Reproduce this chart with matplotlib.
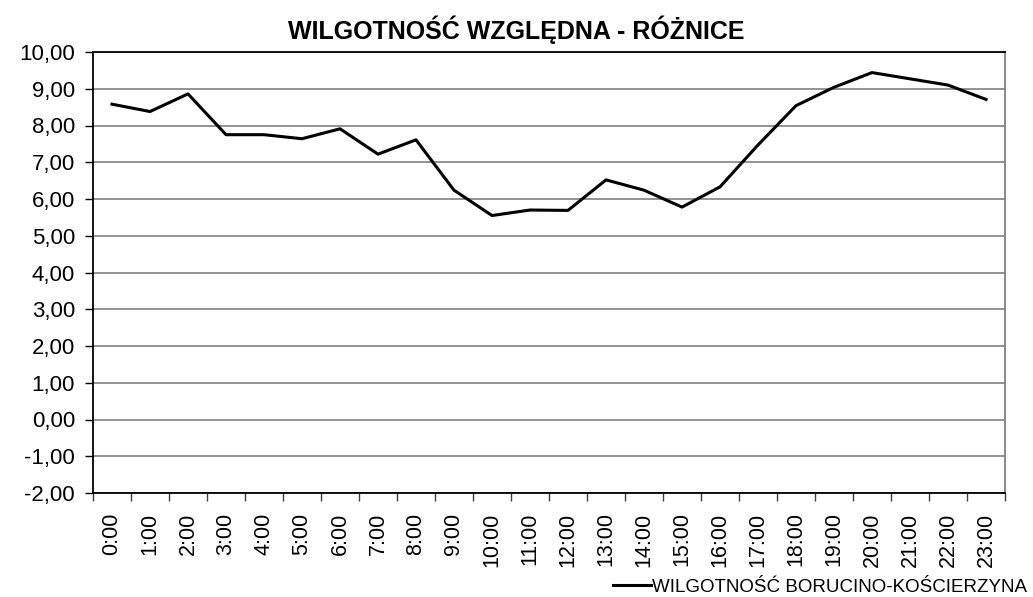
import numpy as np
import matplotlib
matplotlib.use('Agg')
import matplotlib.pyplot as plt
from matplotlib.ticker import FuncFormatter, FixedLocator

plt.rcParams['font.family'] = ['Liberation Sans', 'DejaVu Sans']

# godziny i różnice wilgotności
hours = ['%d:00' % h for h in range(24)]
diff = [8.58, 8.38, 8.86, 7.75, 7.75, 7.64, 7.91, 7.22, 7.61, 6.24, 5.55, 5.70,
        5.69, 6.52, 6.24, 5.78, 6.33, 7.47, 8.54, 9.04, 9.44, 9.27, 9.10, 8.71]
series_name = 'WILGOTNOŚĆ BORUCINO-KOŚCIERZYNA'
title = 'WILGOTNOŚĆ WZGLĘDNA - RÓŻNICE'

fig = plt.figure(figsize=(10.33, 5.97), dpi=100, facecolor='white')
ax = fig.add_axes([93/1033, 1-493/597, 912/1033, 441/597])

x = np.arange(len(hours))
line, = ax.plot(x, diff, '-', c='black', lw=2.2)

ax.set_xlim(-0.5, len(hours) - 0.5)
ax.set_ylim(-2, 10)
ax.set_yticks(np.arange(-2, 11, 1))
ax.yaxis.set_major_formatter(FuncFormatter(lambda v, p: ('%.2f' % v).replace('.', ',')))
ax.grid(axis='y', color='#808080', lw=1.2)
ax.set_axisbelow(True)

# kreski na granicach kategorii, podpisy na środku
ax.xaxis.set_major_locator(FixedLocator(np.arange(-0.5, len(hours), 1)))
ax.set_xticklabels([])
ax.set_xticks(x, minor=True)
ax.set_xticklabels(hours, minor=True, rotation=90)
ax.tick_params(axis='x', which='minor', length=0, labelsize=15.5, pad=14)
ax.tick_params(axis='x', which='major', length=6, width=1, color='#404040', direction='out')
ax.tick_params(axis='y', length=6, width=1, direction='out', labelsize=16, pad=7)

ax.spines['left'].set_linewidth(1.3)
ax.spines['bottom'].set_linewidth(1.3)
ax.spines['top'].set_linewidth(1.3)
ax.spines['right'].set_color('#808080')
ax.spines['right'].set_linewidth(1.3)

fig.text(0.5, 1-30/597, title, ha='center', va='center', fontsize=18, fontweight='bold')

fig.legend([line], [series_name], loc='center right', bbox_to_anchor=(1.0, 1-587/597),
           frameon=False, fontsize=13.5, handlelength=2.0, handletextpad=0.1,
           borderaxespad=0.2, borderpad=0.1)

fig.savefig('out.png', dpi=100)
